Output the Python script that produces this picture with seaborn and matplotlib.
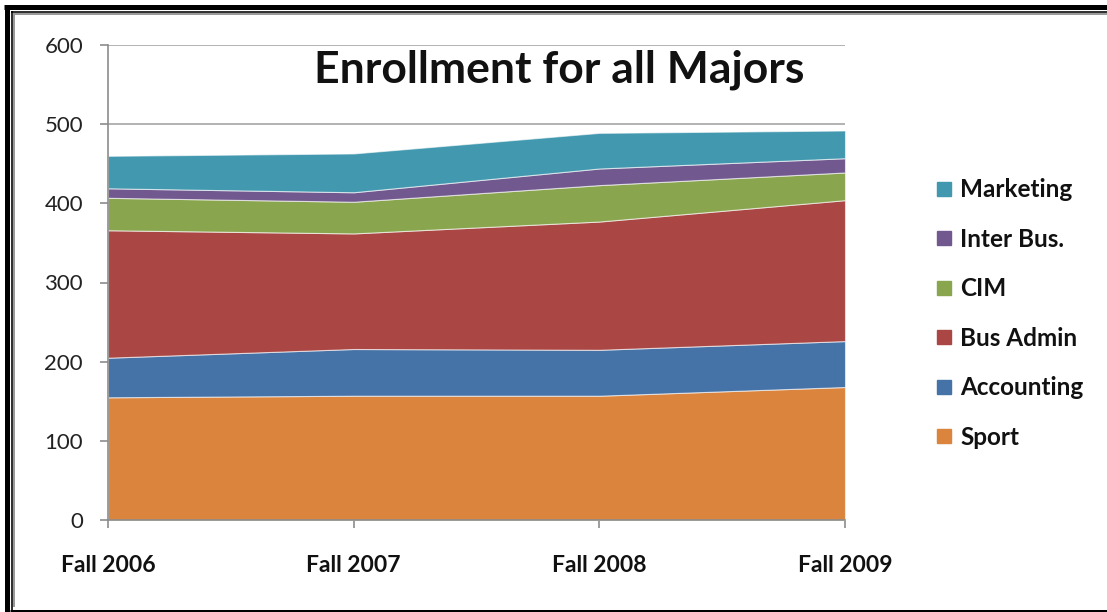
import matplotlib
matplotlib.use("Agg")
import matplotlib.pyplot as plt
from matplotlib.lines import Line2D
import seaborn as sns
import numpy as np

# Enrollment by term
terms = ["Fall 2006", "Fall 2007", "Fall 2008", "Fall 2009"]
majors = ["Sport", "Accounting", "Bus Admin", "CIM", "Inter Bus.", "Marketing"]
sport = [155, 157, 157, 168]
accounting = [50, 59, 58, 58]
bus_admin = [161, 146, 162, 178]
cim = [41, 40, 46, 35]
inter_bus = [12, 12, 21, 18]
marketing = [41, 49, 45, 35]
y_ticks = [0, 100, 200, 300, 400, 500, 600]

colors = ["#DB843D", "#4572A7", "#AA4643", "#89A54E", "#71588F", "#4198AF"]

sns.set_theme(style="white")
plt.rcParams["font.family"] = ["Lato", "DejaVu Sans"]

W, H = 1107, 612
fig = plt.figure(figsize=(W / 100, H / 100), dpi=100)
ax = fig.add_axes([108 / W, 1 - 520 / H, (845 - 108) / W, (520 - 45) / H])

x = np.arange(len(terms))
series = [sport, accounting, bus_admin, cim, inter_bus, marketing]
ax.stackplot(x, *series, colors=sns.color_palette(colors), labels=majors,
             edgecolor=(1, 1, 1, 0.6), linewidth=0.8, zorder=2)

ax.set_xlim(0, len(terms) - 1)
ax.set_ylim(0, 600)
ax.set_yticks(y_ticks)
ax.set_xticks(x)
ax.set_xticklabels(terms, fontweight="bold", fontsize=16.5)
ax.tick_params(axis="y", labelsize=16, length=6, width=1.2, color="#8c8c8c",
               pad=12, left=True, labelcolor="#222222")
ax.tick_params(axis="x", length=6, width=1.2, color="#8c8c8c", pad=19,
               bottom=True, labelcolor="#111111")
ax.yaxis.grid(True, color="#a6a6a6", linewidth=1.2, zorder=0)
ax.set_axisbelow(True)
for side in ["top", "right"]:
    ax.spines[side].set_visible(False)
for side in ["left", "bottom"]:
    ax.spines[side].set_color("#8c8c8c")
    ax.spines[side].set_linewidth(1.2)

ax.text((559 - 108) / 737, (520 - 82) / 475, "Enrollment for all Majors",
        transform=ax.transAxes, ha="center", va="baseline", fontsize=32,
        fontweight="bold", color="#111111")

handles = [Line2D([], [], marker="s", linestyle="none", markersize=10.5,
                  markerfacecolor=c, markeredgecolor=c) for c in colors]
leg = fig.legend(handles[::-1], majors[::-1], loc="upper left",
                 bbox_to_anchor=(924.5 / W, 1 - 168.5 / H), frameon=False,
                 prop={"weight": "bold", "size": 17.5}, labelspacing=1.09,
                 handlelength=0.8, handletextpad=0.26, borderaxespad=0)
for t in leg.get_texts():
    t.set_color("#111111")


def frame_line(xs, ys, color, lw_px):
    """Draw a border segment given in pixel coordinates (origin top-left)."""
    fig.add_artist(Line2D([v / W for v in xs], [1 - v / H for v in ys],
                          transform=fig.transFigure, color=color,
                          linewidth=lw_px * 0.72, solid_capstyle="butt"))


# Double border along the left, top and bottom edges
frame_line([6.5, 6.5], [4.5, H], "black", 5)
frame_line([4, W], [7, 7], "black", 5)
frame_line([11.5, 11.5], [11, 610], "black", 1.6)
frame_line([11, W], [11.5, 11.5], "black", 1.6)
frame_line([10, W], [610.5, 610.5], "black", 3)
frame_line([14, 14], [13, 607], "#9a9a9a", 2)
frame_line([13, W], [14, 14], "#9a9a9a", 2)

fig.savefig("out.png", dpi=100)
